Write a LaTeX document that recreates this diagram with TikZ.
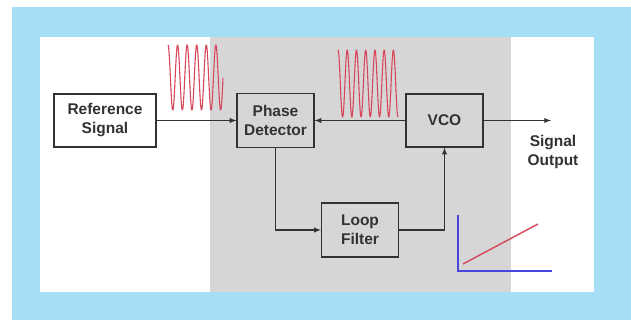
\documentclass[tikz,border=0pt]{standalone}
\usepackage{fontspec}
\setmainfont{Liberation Sans}
\definecolor{framesky}{RGB}{166,223,245}
\definecolor{loopgray}{RGB}{214,214,214}
\definecolor{inkgray}{RGB}{50,50,50}
\definecolor{wavered}{RGB}{215,70,90}
\definecolor{axisblue}{RGB}{70,70,220}
\begin{document}
\begin{tikzpicture}[x=1pt,y=-1pt,>=latex,
  font=\fontsize{15.5}{19}\selectfont\bfseries,
  blockbox/.style={draw=inkgray,line width=1.2pt,text=inkgray,align=center,
    minimum width=77pt,minimum height=54pt,inner sep=2pt},
  signal/.style={draw=inkgray,line width=1.3pt,->},
  waveline/.style={wavered,line width=1.1pt,line join=round}]
  \useasboundingbox (0,0) rectangle (631,320);
  \fill[framesky] (12,7) rectangle (631,320);
  \fill[white] (40,37) rectangle (594,292);
  \fill[loopgray] (210,37) rectangle (511,292);

  % blocks of the loop
  \node[blockbox,fill=white,minimum width=102pt,minimum height=53pt] (refsig) at (105,120.5) {Reference\\Signal};
  \node[blockbox] (phdet) at (275.5,120.5) {Phase\\Detector};
  \node[blockbox,minimum height=53pt] (vco) at (444.5,120.5) {VCO};
  \node[blockbox] (loopf) at (360,230) {Loop\\Filter};
  \coordinate (sigout) at (551,120.5);
  \node[text=inkgray,align=center] (sigtext) at (553,152) {Signal\\Output};

  \draw[signal] (refsig.east) -- (phdet.west);
  \draw[signal] (vco.west) -- (phdet.east);
  \draw[signal] (vco.east) -- (sigout);
  \draw[signal] (phdet.south) |- (loopf.west);
  \draw[signal] (loopf.east) -| (vco.south);

  % reference and feedback waveforms
  \draw[waveline] plot[domain=0:5.75,samples=240] ({168+9.57*\x},{77.5-32.5*cos(360*\x)});
  \draw[waveline] plot[domain=0:6.5,samples=260] ({338+9.23*\x},{83.5-33.5*cos(360*\x)});

  % tuning curve
  \draw[axisblue,line width=1.2pt] (458,215) -- (458,271) -- (552,271);
  \draw[wavered,line width=1.4pt] (463,264) -- (538,224);
\end{tikzpicture}
\end{document}
